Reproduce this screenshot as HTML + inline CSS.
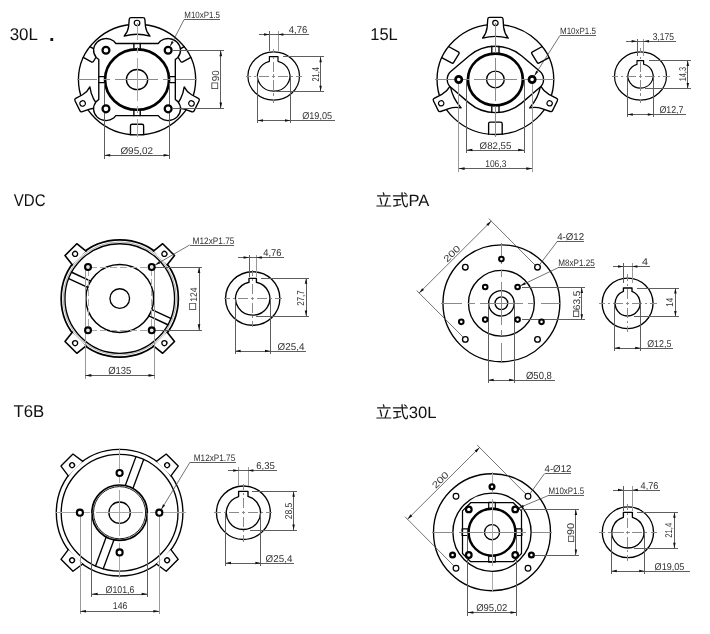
<!DOCTYPE html>
<html lang="zh">
<head>
<meta charset="utf-8">
<title>Flange dimensions</title>
<style>
html,body{margin:0;padding:0;background:#fff;}
body{width:710px;height:634px;overflow:hidden;}
svg{display:block;will-change:transform;}
svg *{vector-effect:non-scaling-stroke;}
.o{fill:none;stroke:#000;stroke-width:1.35;stroke-linejoin:round;stroke-linecap:round;}
.ow{fill:#fff;stroke:#000;stroke-width:1.35;stroke-linejoin:round;stroke-linecap:round;}
.k{fill:none;stroke:#000;stroke-width:2.7;}
.b{fill:#fff;stroke:#000;stroke-width:2.25;}
.c{fill:none;stroke:#777;stroke-width:0.9;}
.d{fill:none;stroke:#444;stroke-width:0.75;}
.x{shape-rendering:crispEdges;stroke-width:1;}
.d.x{stroke:#5e5e5e;}
.c.x{stroke:#8a8a8a;}
.c.l{stroke:#a8a8a8;}
.d.l{stroke:#999;}
.s{stroke-width:1.2;}
.a{fill:#111;stroke:none;}
.w{fill:#fff;stroke:none;}
text{font-family:"Liberation Sans","Noto Sans CJK SC",sans-serif;fill:#333;text-rendering:geometricPrecision;}
.n{font-size:9.7px;}
.q{stroke:#2a2a2a;stroke-width:0.25;}
.h{font-size:16px;fill:#111;}
</style>
</head>
<body>
<svg width="710" height="634" viewBox="0 0 710 634">
<rect class="w" x="0" y="0" width="710" height="634"/>
<!-- titles -->
<text class="h" x="9.7" y="40.1" style="font-size:17px" textLength="28.2" lengthAdjust="spacingAndGlyphs">30L</text>
<text class="h" x="49.0" y="40.9" style="font-size:20px;font-weight:bold">.</text>
<text class="h" x="370.3" y="40.1" style="font-size:17px" textLength="27.5" lengthAdjust="spacingAndGlyphs">15L</text>
<text class="h" x="13.8" y="205.8" style="font-size:17px" textLength="31.8" lengthAdjust="spacingAndGlyphs">VDC</text>
<text class="h" x="375.5" y="206.4" style="font-size:16.4px" textLength="53.9" lengthAdjust="spacingAndGlyphs">立式PA</text>
<text class="h" x="13.5" y="417.3" style="font-size:17px" textLength="30.8" lengthAdjust="spacingAndGlyphs">T6B</text>
<text class="h" x="375.4" y="417.6" style="font-size:16.4px" textLength="61.1" lengthAdjust="spacingAndGlyphs">立式30L</text>
<!-- d1 -->
<g transform="translate(137.05 79.55) scale(1.06 1)"><circle class="o" cx="0" cy="0" r="55.3"/><g><path class="o" d="M -6.2 55 L -6.2 46.2 Q -6.2 44.7 -4.7 44.7 L 4.7 44.7 Q 6.2 44.7 6.2 46.2 L 6.2 55"/></g><g transform="rotate(120)"><path class="o" d="M -6.2 55 L -6.2 46.2 Q -6.2 44.7 -4.7 44.7 L 4.7 44.7 Q 6.2 44.7 6.2 46.2 L 6.2 55"/></g><g transform="rotate(-120)"><path class="o" d="M -6.2 55 L -6.2 46.2 Q -6.2 44.7 -4.7 44.7 L 4.7 44.7 Q 6.2 44.7 6.2 46.2 L 6.2 55"/></g><g transform="rotate(0)"><path class="ow" d="M -12.2 -43.4 C -9.7 -46.38 -8.35 -49.54 -7.95 -53.07 L -7.35 -60.4 Q -7.2 -62 -5.6 -62 L 5.6 -62 Q 7.2 -62 7.35 -60.4 L 7.95 -53.07 C 8.35 -49.54 9.7 -46.38 12.2 -43.4 A 40.12 40.12 0 0 0 -12.2 -43.4 Z"/><circle class="ow" style="stroke-width:1.2" cx="0" cy="-56.65" r="2.65"/></g><g transform="rotate(115)"><path class="ow" d="M -12.2 -43.4 C -9.7 -46.38 -8.35 -49.54 -7.95 -53.07 L -7.35 -60.4 Q -7.2 -62 -5.6 -62 L 5.6 -62 Q 7.2 -62 7.35 -60.4 L 7.95 -53.07 C 8.35 -49.54 9.7 -46.38 12.2 -43.4 A 40.12 40.12 0 0 0 -12.2 -43.4 Z"/><circle class="ow" style="stroke-width:1.2" cx="0" cy="-56.65" r="2.65"/></g><g transform="rotate(-115)"><path class="ow" d="M -12.2 -43.4 C -9.7 -46.38 -8.35 -49.54 -7.95 -53.07 L -7.35 -60.4 Q -7.2 -62 -5.6 -62 L 5.6 -62 Q 7.2 -62 7.35 -60.4 L 7.95 -53.07 C 8.35 -49.54 9.7 -46.38 12.2 -43.4 A 40.12 40.12 0 0 0 -12.2 -43.4 Z"/><circle class="ow" style="stroke-width:1.2" cx="0" cy="-56.65" r="2.65"/></g><path class="ow" d="M -36.1 -19.98 L -38.5 -22.07 A 11.7 11.7 0 0 1 -22.07 -38.5 L -19.98 -36.1 L 19.98 -36.1 L 22.07 -38.5 A 11.7 11.7 0 0 1 38.5 -22.07 L 36.1 -19.98 L 36.1 19.98 L 38.5 22.07 A 11.7 11.7 0 0 1 22.07 38.5 L 19.98 36.1 L -19.98 36.1 L -22.07 38.5 A 11.7 11.7 0 0 1 -38.5 22.07 L -36.1 19.98 Z"/><g transform="rotate(0)"><path class="o" d="M -3 -36.1 L -3 -30.2 M 3 -36.1 L 3 -30.2"/></g><g transform="rotate(90)"><path class="o" d="M -3 -36.1 L -3 -30.2 M 3 -36.1 L 3 -30.2"/></g><g transform="rotate(180)"><path class="o" d="M -3 -36.1 L -3 -30.2 M 3 -36.1 L 3 -30.2"/></g><g transform="rotate(270)"><path class="o" d="M -3 -36.1 L -3 -30.2 M 3 -36.1 L 3 -30.2"/></g><circle class="k" cx="0" cy="0" r="30.2"/><circle class="o" cx="0" cy="0" r="10.05"/></g>
<line class="c x" x1="77.4" y1="79.5" x2="97.4" y2="79.5"/><line class="c x" x1="103.7" y1="79.5" x2="110.1" y2="79.5"/><line class="c x" x1="115.3" y1="79.5" x2="158.1" y2="79.5"/><line class="c x" x1="163.3" y1="79.5" x2="169.7" y2="79.5"/><line class="c x" x1="176" y1="79.5" x2="196.7" y2="79.5"/>
<line class="c l x" x1="137" y1="23" x2="137" y2="40.2"/><line class="c l x" x1="137" y1="46.5" x2="137" y2="52.9"/><line class="c l x" x1="137" y1="58.1" x2="137" y2="100.9"/><line class="c l x" x1="137" y1="106.1" x2="137" y2="112.5"/><line class="c l x" x1="137" y1="118.8" x2="137" y2="136.5"/>
<line class="d x" x1="104.2" y1="82.5" x2="104.2" y2="158.6"/>
<line class="d x" x1="169.6" y1="82.5" x2="169.6" y2="158.6"/>
<line class="d x" x1="104.2" y1="155.2" x2="169.6" y2="155.2"/><polygon class="a" points="104.2,155.2 110.2,153.9 110.2,156.5"/><polygon class="a" points="169.6,155.2 163.6,156.5 163.6,153.9"/>
<text class="n" x="120.4" y="154.1" style="font-size:9.8px" textLength="32.6" lengthAdjust="spacingAndGlyphs">Ø95,02</text>
<line class="d x" x1="172.5" y1="50.3" x2="224.2" y2="50.3"/>
<line class="d x" x1="172.5" y1="108.6" x2="224.2" y2="108.6"/>
<line class="d x" x1="220.8" y1="50.3" x2="220.8" y2="108.6"/><polygon class="a" points="220.8,50.3 222.1,56.3 219.5,56.3"/><polygon class="a" points="220.8,108.6 219.5,102.6 222.1,102.6"/>
<text class="n" x="218.4" y="88.9" transform="rotate(-90 218.4 88.9)"><tspan class="q" style="font-size:10.6px">□</tspan><tspan x="225.96" y="89.2" style="font-size:10.03px" textLength="11" lengthAdjust="spacingAndGlyphs">90</tspan></text>
<circle class="b" cx="105.95" cy="50.25" r="3.45"/>
<circle class="b" cx="105.95" cy="108.85" r="3.45"/>
<circle class="b" cx="168.15" cy="50.25" r="3.45"/>
<circle class="b" cx="168.15" cy="108.85" r="3.45"/>
<line class="d" x1="170.18" y1="46.35" x2="184.1" y2="19.6"/><polygon class="a" points="170.18,46.35 171.47,41.16 173.69,42.31"/><line class="d x" x1="184.1" y1="19.6" x2="219.9" y2="19.6"/>
<text class="n" x="184.3" y="18.1" style="font-size:9.1px" textLength="35.7" lengthAdjust="spacingAndGlyphs">M10xP1.5</text>
<!-- d2 -->
<g transform="translate(495.4 79.45) scale(1.06 1)"><circle class="o" cx="0" cy="0" r="55.05"/><g><path class="o" d="M -6.4 54.8 L -6.4 44.1 Q -6.4 42.6 -4.9 42.6 L 4.9 42.6 Q 6.4 42.6 6.4 44.1 L 6.4 54.8"/></g><g transform="rotate(120)"><path class="o" d="M -6.4 54.8 L -6.4 44.1 Q -6.4 42.6 -4.9 42.6 L 4.9 42.6 Q 6.4 42.6 6.4 44.1 L 6.4 54.8"/></g><g transform="rotate(-120)"><path class="o" d="M -6.4 54.8 L -6.4 44.1 Q -6.4 42.6 -4.9 42.6 L 4.9 42.6 Q 6.4 42.6 6.4 44.1 L 6.4 54.8"/></g><g transform="rotate(0)"><path class="ow" d="M -12.1 -41.3 C -9.6 -44.61 -8.2 -48.13 -7.8 -52.06 L -7.2 -60.4 Q -7.05 -62 -5.45 -62 L 5.45 -62 Q 7.05 -62 7.2 -60.4 L 7.8 -52.06 C 8.2 -48.13 9.6 -44.61 12.1 -41.3 A 43.91 43.91 0 0 0 -12.1 -41.3 Z"/><circle class="ow" style="stroke-width:1.2" cx="0" cy="-56.45" r="2.55"/></g><g transform="rotate(115)"><path class="ow" d="M -12.1 -41.3 C -9.6 -44.61 -8.2 -48.13 -7.8 -52.06 L -7.2 -60.4 Q -7.05 -62 -5.45 -62 L 5.45 -62 Q 7.05 -62 7.2 -60.4 L 7.8 -52.06 C 8.2 -48.13 9.6 -44.61 12.1 -41.3 A 43.91 43.91 0 0 0 -12.1 -41.3 Z"/><circle class="ow" style="stroke-width:1.2" cx="0" cy="-56.45" r="2.55"/></g><g transform="rotate(-115)"><path class="ow" d="M -12.1 -41.3 C -9.6 -44.61 -8.2 -48.13 -7.8 -52.06 L -7.2 -60.4 Q -7.05 -62 -5.45 -62 L 5.45 -62 Q 7.05 -62 7.2 -60.4 L 7.8 -52.06 C 8.2 -48.13 9.6 -44.61 12.1 -41.3 A 43.91 43.91 0 0 0 -12.1 -41.3 Z"/><circle class="ow" style="stroke-width:1.2" cx="0" cy="-56.45" r="2.55"/></g></g>
<g transform="translate(495.4 79.45) scale(1.06 1)"><path class="ow" d="M -41.84 -8.12 L -24.64 -23.67 A 36.75 36.75 0 0 1 24.64 -23.67 L 41.84 -8.12 A 10.95 10.95 0 0 1 41.84 8.12 L 24.64 23.67 A 36.75 36.75 0 0 1 -24.64 23.67 L -41.84 8.12 A 10.95 10.95 0 0 1 -41.84 -8.12 Z"/></g>
<g transform="translate(495.4 79.45) scale(1.06 1)"><g transform="rotate(0)"><path class="o" d="M -3.4 -33.15 L -3.4 -25.9 M 3.4 -33.15 L 3.4 -25.9"/></g><g transform="rotate(180)"><path class="o" d="M -3.4 -33.15 L -3.4 -25.9 M 3.4 -33.15 L 3.4 -25.9"/></g><circle class="k" cx="0" cy="0" r="25.9"/><circle class="o" cx="0" cy="0" r="8.35"/></g>
<line class="c x" x1="435.2" y1="79.5" x2="468.6" y2="79.5"/><line class="c x" x1="474.2" y1="79.5" x2="516.6" y2="79.5"/><line class="c x" x1="522.2" y1="79.5" x2="555" y2="79.5"/>
<line class="c x" x1="495.4" y1="23" x2="495.4" y2="52.7"/><line class="c x" x1="495.4" y1="58.3" x2="495.4" y2="100.7"/><line class="c x" x1="495.4" y1="106.3" x2="495.4" y2="136.5"/>
<line class="d x" x1="466.4" y1="80" x2="466.4" y2="152.6"/>
<line class="d x" x1="524.2" y1="80" x2="524.2" y2="152.6"/>
<line class="d x" x1="466.4" y1="150" x2="524.2" y2="150"/><polygon class="a" points="466.4,150 472.4,148.7 472.4,151.3"/><polygon class="a" points="524.2,150 518.2,151.3 518.2,148.7"/>
<text class="n" x="479.6" y="149.1" style="font-size:9.8px" textLength="31.8" lengthAdjust="spacingAndGlyphs">Ø82,55</text>
<line class="d l x" x1="458.6" y1="83" x2="458.6" y2="171.6"/>
<line class="d l x" x1="532.3" y1="83" x2="532.3" y2="171.6"/>
<line class="d x" x1="458.6" y1="168.6" x2="532.3" y2="168.6"/><polygon class="a" points="458.6,168.6 464.6,167.3 464.6,169.9"/><polygon class="a" points="532.3,168.6 526.3,169.9 526.3,167.3"/>
<text class="n" x="485.2" y="166.8" style="font-size:9.8px" textLength="21.2" lengthAdjust="spacingAndGlyphs">106,3</text>
<circle class="b" style="stroke-width:2.7" cx="458.7" cy="79.45" r="3.15"/>
<circle class="b" style="stroke-width:2.7" cx="532.1" cy="79.45" r="3.15"/>
<line class="d" x1="534.45" y1="75.73" x2="560" y2="35.4"/><polygon class="a" points="534.45,75.73 536.18,70.67 538.29,72.01"/><line class="d x" x1="560" y1="35.4" x2="596" y2="35.4"/>
<text class="n" x="560" y="34.1" style="font-size:9.1px" textLength="35.9" lengthAdjust="spacingAndGlyphs">M10xP1.5</text>
<!-- d3 -->
<g transform="translate(119.75 298.5)"><circle class="o" style="stroke-width:1.7" cx="0" cy="0" r="58.6"/><g transform="rotate(45)"><path class="ow" d="M -9.71 -57.38 L -8.36 -69.1 L 8.36 -69.1 L 9.71 -57.38" style="stroke-width:1.6"/><circle class="ow" cx="0" cy="-63.1" r="2.5"/></g><g transform="rotate(135)"><path class="ow" d="M -9.71 -57.38 L -8.36 -69.1 L 8.36 -69.1 L 9.71 -57.38" style="stroke-width:1.6"/><circle class="ow" cx="0" cy="-63.1" r="2.5"/></g><g transform="rotate(225)"><path class="ow" d="M -9.71 -57.38 L -8.36 -69.1 L 8.36 -69.1 L 9.71 -57.38" style="stroke-width:1.6"/><circle class="ow" cx="0" cy="-63.1" r="2.5"/></g><g transform="rotate(315)"><path class="ow" d="M -9.71 -57.38 L -8.36 -69.1 L 8.36 -69.1 L 9.71 -57.38" style="stroke-width:1.6"/><circle class="ow" cx="0" cy="-63.1" r="2.5"/></g><circle class="c" style="stroke-width:0.8;stroke:#999" cx="0" cy="0" r="56.6"/><circle class="o" style="stroke-width:1.35" cx="0" cy="0" r="54.8"/><g transform="rotate(25)"><line class="o" x1="-54.69" y1="-3.5" x2="-33.72" y2="-3.5" style="stroke-width:1.5"/><line class="o" x1="-54.69" y1="3.5" x2="-33.72" y2="3.5" style="stroke-width:1.5"/></g><g transform="rotate(205)"><line class="o" x1="-54.69" y1="-3.5" x2="-33.72" y2="-3.5" style="stroke-width:1.5"/><line class="o" x1="-54.69" y1="3.5" x2="-33.72" y2="3.5" style="stroke-width:1.5"/></g><circle class="o" style="stroke-width:1.5" cx="0" cy="0" r="33.9"/><circle class="o" cx="0" cy="0" r="9.8"/></g>
<line class="c l x" x1="88" y1="267" x2="151.7" y2="267" stroke-dasharray="7 3" stroke-dashoffset="-2"/>
<line class="c l x" x1="88" y1="330.3" x2="151.7" y2="330.3" stroke-dasharray="7 3" stroke-dashoffset="-2"/>
<line class="c l x" x1="88" y1="267" x2="88" y2="330.3" stroke-dasharray="7 3" stroke-dashoffset="-2"/>
<line class="c l x" x1="151.7" y1="267" x2="151.7" y2="330.3" stroke-dasharray="7 3" stroke-dashoffset="-2"/>
<line class="d l x" x1="85.4" y1="267" x2="85.4" y2="379"/>
<line class="d l x" x1="154.5" y1="267" x2="154.5" y2="379"/>
<line class="d x" x1="85.4" y1="375.4" x2="154.5" y2="375.4"/><polygon class="a" points="85.4,375.4 91.4,374.1 91.4,376.7"/><polygon class="a" points="154.5,375.4 148.5,376.7 148.5,374.1"/>
<text class="n" x="108.2" y="374.1" style="font-size:10.3px" textLength="23.2" lengthAdjust="spacingAndGlyphs">Ø135</text>
<line class="d x" x1="151.7" y1="267" x2="202.2" y2="267"/>
<line class="d x" x1="151.7" y1="330.3" x2="202.2" y2="330.3"/>
<line class="d x" x1="199" y1="267" x2="199" y2="330.3"/><polygon class="a" points="199,267 200.3,273 197.7,273"/><polygon class="a" points="199,330.3 197.7,324.3 200.3,324.3"/>
<text class="n" x="196.3" y="309.8" transform="rotate(-90 196.3 309.8)"><tspan class="q" style="font-size:11px">□</tspan><tspan x="204.4" y="310.1" style="font-size:9.66px" textLength="14.3" lengthAdjust="spacingAndGlyphs">124</tspan></text>
<circle class="b" style="fill:#e4e4e4;stroke-width:2.1" cx="88" cy="267" r="2.95"/>
<circle class="b" style="fill:#e4e4e4;stroke-width:2.1" cx="88" cy="330.3" r="2.95"/>
<circle class="b" style="fill:#e4e4e4;stroke-width:2.1" cx="151.7" cy="267" r="2.95"/>
<circle class="b" style="fill:#e4e4e4;stroke-width:2.1" cx="151.7" cy="330.3" r="2.95"/>
<line class="d" x1="155.07" y1="265.04" x2="189.6" y2="245"/><polygon class="a" points="155.07,265.04 158.94,261.35 160.2,263.51"/><line class="d x" x1="189.6" y1="245" x2="234.4" y2="245"/>
<text class="n" x="192.6" y="244.1" style="font-size:9.3px" textLength="41.8" lengthAdjust="spacingAndGlyphs">M12xP1.75</text>
<!-- d4 -->
<circle class="o" cx="501.4" cy="303.3" r="58.45"/>
<circle class="o" cx="501.4" cy="303.3" r="32.9"/>
<circle class="o" cx="501.4" cy="303.3" r="12.75"/>
<circle class="o" cx="501.4" cy="303.3" r="6.35"/>
<line class="c x" x1="441.4" y1="303.3" x2="462.1" y2="303.3"/><line class="c x" x1="468.4" y1="303.3" x2="474.8" y2="303.3"/><line class="c x" x1="480" y1="303.3" x2="522.8" y2="303.3"/><line class="c x" x1="528" y1="303.3" x2="534.4" y2="303.3"/><line class="c x" x1="540.7" y1="303.3" x2="561.4" y2="303.3"/>
<line class="c x" x1="501.4" y1="243.3" x2="501.4" y2="264"/><line class="c x" x1="501.4" y1="270.3" x2="501.4" y2="276.7"/><line class="c x" x1="501.4" y1="281.9" x2="501.4" y2="324.7"/><line class="c x" x1="501.4" y1="329.9" x2="501.4" y2="336.3"/><line class="c x" x1="501.4" y1="342.6" x2="501.4" y2="363.3"/>
<line class="d x" x1="488.2" y1="303.3" x2="488.2" y2="383.4"/>
<line class="d x" x1="514.5" y1="303.3" x2="514.5" y2="383.4"/>
<line class="d x" x1="488.2" y1="380" x2="555" y2="380"/>
<polygon class="a" points="488.2,380 493.6,378.75 493.6,381.25"/>
<polygon class="a" points="514.5,380 509.1,381.25 509.1,378.75"/>
<text class="n" x="526" y="379.1" style="font-size:10.3px" textLength="25.8" lengthAdjust="spacingAndGlyphs">Ø50,8</text>
<line class="d x" x1="521.5" y1="287.5" x2="585" y2="287.5"/>
<line class="d x" x1="521.5" y1="319.6" x2="585" y2="319.6"/>
<line class="d x" x1="581.8" y1="287.5" x2="581.8" y2="319.6"/><polygon class="a" points="581.8,287.5 583.05,292.9 580.55,292.9"/><polygon class="a" points="581.8,319.6 580.55,314.2 583.05,314.2"/>
<text class="n" x="579.5" y="316.8" transform="rotate(-90 579.5 316.8)"><tspan class="q" style="font-size:9.8px">□</tspan><tspan x="586.08" y="317.1" style="font-size:9.66px" textLength="19.6" lengthAdjust="spacingAndGlyphs">63,5</tspan></text>
<line class="d" x1="462.93" y1="336.92" x2="416.68" y2="290.54"/><line class="d" x1="535.03" y1="265.02" x2="488.78" y2="218.64"/><line class="d" x1="419.15" y1="293.02" x2="491.25" y2="221.12"/><polygon class="a" points="419.15,293.02 422.2,288.15 424.03,289.99"/><polygon class="a" points="491.25,221.12 488.2,226 486.37,224.15"/><text class="n" x="454.14" y="256.01" text-anchor="middle" transform="rotate(-44.92 454.14 256.01)" style="font-size:9.3px" textLength="19.2" lengthAdjust="spacingAndGlyphs">200</text>
<circle class="ow" cx="465.3" cy="267.2" r="2.8"/>
<circle class="b" style="stroke-width:2" cx="485.2" cy="287" r="2.3"/>
<circle class="ow" cx="465.3" cy="339.4" r="2.8"/>
<circle class="b" style="stroke-width:2" cx="485.2" cy="319.6" r="2.3"/>
<circle class="ow" cx="537.5" cy="267.2" r="2.8"/>
<circle class="b" style="stroke-width:2" cx="517.6" cy="287" r="2.3"/>
<circle class="ow" cx="537.5" cy="339.4" r="2.8"/>
<circle class="b" style="stroke-width:2" cx="517.6" cy="319.6" r="2.3"/>
<circle class="b" style="stroke-width:2" cx="501.4" cy="259.1" r="2.3"/>
<circle class="b" style="stroke-width:2" cx="541.52" cy="321.84" r="2.3"/>
<circle class="b" style="stroke-width:2" cx="461.28" cy="321.84" r="2.3"/>
<line class="d" x1="539.43" y1="264.95" x2="557.3" y2="241.4"/><line class="d x" x1="557.3" y1="241.4" x2="584.4" y2="241.4"/>
<text class="n" x="557.2" y="240.1" style="font-size:9.9px" textLength="26.9" lengthAdjust="spacingAndGlyphs">4-Ø12</text>
<line class="d" x1="520.49" y1="285.72" x2="558.1" y2="267.7"/><polygon class="a" points="520.49,285.72 524.64,282.34 525.72,284.6"/><line class="d x" x1="558.1" y1="267.7" x2="595" y2="267.7"/>
<text class="n" x="558.2" y="266.1" style="font-size:9.3px" textLength="36.7" lengthAdjust="spacingAndGlyphs">M8xP1.25</text>
<!-- d5 -->
<g transform="translate(119.6 512.7)"><circle class="o" cx="0" cy="0" r="63.3"/><g transform="rotate(45)"><path class="ow" d="M -10.21 -62.37 L -8.48 -74.42 L 8.48 -74.42 L 10.21 -62.37"/><circle class="ow" cx="0" cy="-67.2" r="2.4"/></g><g transform="rotate(135)"><path class="ow" d="M -10.21 -62.37 L -8.48 -74.42 L 8.48 -74.42 L 10.21 -62.37"/><circle class="ow" cx="0" cy="-67.2" r="2.4"/></g><g transform="rotate(225)"><path class="ow" d="M -10.21 -62.37 L -8.48 -74.42 L 8.48 -74.42 L 10.21 -62.37"/><circle class="ow" cx="0" cy="-67.2" r="2.4"/></g><g transform="rotate(315)"><path class="ow" d="M -10.21 -62.37 L -8.48 -74.42 L 8.48 -74.42 L 10.21 -62.37"/><circle class="ow" cx="0" cy="-67.2" r="2.4"/></g><circle class="o" cx="0" cy="0" r="58.4"/><g transform="rotate(20.3)"><line class="o" x1="-4.1" y1="-58.26" x2="-4.1" y2="-27.5"/><line class="o" x1="4.1" y1="-58.26" x2="4.1" y2="-27.5"/></g><g transform="rotate(200.3)"><line class="o" x1="-4.1" y1="-58.26" x2="-4.1" y2="-27.5"/><line class="o" x1="4.1" y1="-58.26" x2="4.1" y2="-27.5"/></g><circle class="o" style="stroke-width:1.7" cx="0" cy="0" r="27.7"/><circle class="o" style="stroke-width:0.9" cx="0" cy="0" r="26.1"/><circle class="o" cx="0" cy="0" r="10.7"/></g>
<line class="c l x" x1="55" y1="512.7" x2="76.6" y2="512.7"/><line class="c l x" x1="82.6" y1="512.7" x2="89.5" y2="512.7"/><line class="c l x" x1="96.4" y1="512.7" x2="142.8" y2="512.7"/><line class="c l x" x1="149.7" y1="512.7" x2="156.6" y2="512.7"/><line class="c l x" x1="162.6" y1="512.7" x2="186.1" y2="512.7"/>
<line class="c l x" x1="119.6" y1="447.7" x2="119.6" y2="469.7"/><line class="c l x" x1="119.6" y1="475.7" x2="119.6" y2="482.6"/><line class="c l x" x1="119.6" y1="489.5" x2="119.6" y2="535.9"/><line class="c l x" x1="119.6" y1="542.8" x2="119.6" y2="549.7"/><line class="c l x" x1="119.6" y1="555.7" x2="119.6" y2="577.7"/>
<line class="d l x" x1="80" y1="515.7" x2="80" y2="613.8"/>
<line class="d l x" x1="159.4" y1="515.7" x2="159.4" y2="613.8"/>
<line class="d x" x1="91.7" y1="512.7" x2="91.7" y2="597.2"/>
<line class="d x" x1="147.6" y1="512.7" x2="147.6" y2="597.2"/>
<line class="d x" x1="91.7" y1="594" x2="147.6" y2="594"/><polygon class="a" points="91.7,594 97.7,592.7 97.7,595.3"/><polygon class="a" points="147.6,594 141.6,595.3 141.6,592.7"/>
<text class="n" x="105.6" y="593.1" style="font-size:9.9px" textLength="28.8" lengthAdjust="spacingAndGlyphs">Ø101,6</text>
<line class="d x" x1="80" y1="611.2" x2="159.4" y2="611.2"/><polygon class="a" points="80,611.2 86,609.9 86,612.5"/><polygon class="a" points="159.4,611.2 153.4,612.5 153.4,609.9"/>
<text class="n" x="112.8" y="608.9" style="font-size:9.9px" textLength="14.5" lengthAdjust="spacingAndGlyphs">146</text>
<circle class="b" style="stroke-width:2.1" cx="159.3" cy="512.7" r="3.05"/>
<circle class="b" style="stroke-width:2.1" cx="119.6" cy="552.4" r="3.05"/>
<circle class="b" style="stroke-width:2.1" cx="79.9" cy="512.7" r="3.05"/>
<circle class="b" style="stroke-width:2.1" cx="119.6" cy="473" r="3.05"/>
<line class="d" x1="161.38" y1="509.28" x2="190" y2="462.2"/><polygon class="a" points="161.38,509.28 163.01,504.19 165.15,505.49"/><line class="d x" x1="190" y1="462.2" x2="236.2" y2="462.2"/>
<text class="n" x="193.8" y="461.1" style="font-size:9.3px" textLength="41.4" lengthAdjust="spacingAndGlyphs">M12xP1.75</text>
<!-- d6 -->
<circle class="o" cx="492" cy="532.2" r="58.5"/>
<circle class="o" cx="492" cy="532.2" r="39.1"/>
<g transform="translate(492 532.2)"><path class="o" style="stroke-width:1.25" d="M -21.3 -29.5 L 21.3 -29.5 L 29.5 -21.3 L 29.5 21.3 L 21.3 29.5 L -21.3 29.5 L -29.5 21.3 L -29.5 -21.3 Z"/><g transform="rotate(0)"><rect class="o" style="stroke-width:1.15" x="-3.3" y="-29.9" width="6.6" height="6"/></g><g transform="rotate(90)"><rect class="o" style="stroke-width:1.15" x="-3.3" y="-29.9" width="6.6" height="6"/></g><g transform="rotate(180)"><rect class="o" style="stroke-width:1.15" x="-3.3" y="-29.9" width="6.6" height="6"/></g><g transform="rotate(270)"><rect class="o" style="stroke-width:1.15" x="-3.3" y="-29.9" width="6.6" height="6"/></g></g>
<circle class="k" style="stroke-width:2.45" cx="492" cy="532.2" r="23.4"/>
<circle class="o" cx="492" cy="532.2" r="7.55"/>
<line class="c x" x1="431.8" y1="532.2" x2="452.5" y2="532.2"/><line class="c x" x1="458.5" y1="532.2" x2="525.5" y2="532.2"/><line class="c x" x1="531.5" y1="532.2" x2="552.2" y2="532.2"/>
<line class="c l x" x1="492" y1="472" x2="492" y2="492.7"/><line class="c l x" x1="492" y1="498.7" x2="492" y2="565.7"/><line class="c l x" x1="492" y1="571.7" x2="492" y2="592.4"/>
<line class="d x" x1="467.4" y1="532.2" x2="467.4" y2="615.6"/>
<line class="d x" x1="516.5" y1="532.2" x2="516.5" y2="615.6"/>
<line class="d x" x1="467.4" y1="612.5" x2="516.5" y2="612.5"/><polygon class="a" points="467.4,612.5 473.4,611.2 473.4,613.8"/><polygon class="a" points="516.5,612.5 510.5,613.8 510.5,611.2"/>
<text class="n" x="476.2" y="610.8" style="font-size:9.9px" textLength="31.2" lengthAdjust="spacingAndGlyphs">Ø95,02</text>
<line class="d x" x1="519.5" y1="509.5" x2="579" y2="509.5"/>
<line class="d x" x1="535" y1="555" x2="579" y2="555"/>
<line class="d x" x1="575.9" y1="509.5" x2="575.9" y2="555"/><polygon class="a" points="575.9,509.5 577.15,514.9 574.65,514.9"/><polygon class="a" points="575.9,555 574.65,549.6 577.15,549.6"/>
<text class="n" x="573.7" y="541.8" transform="rotate(-90 573.7 541.8)"><tspan class="q" style="font-size:9.6px">□</tspan><tspan x="580.46" y="542.1" style="font-size:9.75px" textLength="12.2" lengthAdjust="spacingAndGlyphs">90</tspan></text>
<line class="d" x1="453.53" y1="565.52" x2="405.02" y2="516.73"/><line class="d" x1="525.63" y1="493.82" x2="477.12" y2="445.03"/><line class="d" x1="407.49" y1="519.22" x2="479.59" y2="447.52"/><polygon class="a" points="407.49,519.22 410.54,514.35 412.37,516.19"/><polygon class="a" points="479.59,447.52 476.53,452.39 474.7,450.54"/><text class="n" x="442.48" y="482.3" text-anchor="middle" transform="rotate(-44.84 442.48 482.3)" style="font-size:9.3px" textLength="19.2" lengthAdjust="spacingAndGlyphs">200</text>
<circle class="ow" style="stroke-width:1.2" cx="456" cy="496.2" r="2.85"/>
<circle class="b" style="stroke-width:2.2" cx="468.8" cy="509.4" r="2.8"/>
<circle class="ow" style="stroke-width:1.2" cx="456" cy="568.2" r="2.85"/>
<circle class="b" style="stroke-width:2.2" cx="468.8" cy="555" r="2.8"/>
<circle class="ow" style="stroke-width:1.2" cx="528" cy="496.2" r="2.85"/>
<circle class="b" style="stroke-width:2.2" cx="515.2" cy="509.4" r="2.8"/>
<circle class="ow" style="stroke-width:1.2" cx="528" cy="568.2" r="2.85"/>
<circle class="b" style="stroke-width:2.2" cx="515.2" cy="555" r="2.8"/>
<circle class="b" style="stroke-width:2.3" cx="492" cy="486.7" r="2.4"/>
<circle class="b" style="stroke-width:2.3" cx="531.4" cy="554.95" r="2.4"/>
<circle class="b" style="stroke-width:2.3" cx="452.6" cy="554.95" r="2.4"/>
<line class="d" x1="530.03" y1="493.63" x2="544.5" y2="473.6"/><line class="d x" x1="544.5" y1="473.6" x2="571.4" y2="473.6"/>
<text class="n" x="544.5" y="472.1" style="font-size:9.9px" textLength="26.9" lengthAdjust="spacingAndGlyphs">4-Ø12</text>
<line class="d" x1="518.71" y1="507.94" x2="548" y2="495.7"/><polygon class="a" points="518.71,507.94 523.02,504.78 523.99,507.08"/><line class="d x" x1="548" y1="495.7" x2="584.4" y2="495.7"/>
<text class="n" x="548.4" y="493.9" style="font-size:9.3px" textLength="35.7" lengthAdjust="spacingAndGlyphs">M10xP1.5</text>
<!-- shafts -->
<ellipse class="o" cx="273.7" cy="76" rx="25.8" ry="24.1" style="stroke-width:1.2"/>
<path class="o" d="M 269.4 61.35 L 269.4 56.6 L 278 56.6 L 278 61.35 A 16.2 15.2 0 1 1 269.4 61.35" style="stroke-width:1.2"/>
<line class="c x" x1="245.6" y1="76" x2="251.1" y2="76"/><line class="c x" x1="254.2" y1="76" x2="256.4" y2="76"/><line class="c x" x1="259.2" y1="76" x2="269.3" y2="76"/><line class="c x" x1="272.05" y1="76" x2="275.35" y2="76"/><line class="c x" x1="278.1" y1="76" x2="288.2" y2="76"/><line class="c x" x1="291" y1="76" x2="293.2" y2="76"/><line class="c x" x1="296.3" y1="76" x2="302.4" y2="76"/>
<line class="c x" x1="273.7" y1="48.6" x2="273.7" y2="53.4"/><line class="c x" x1="273.7" y1="56.5" x2="273.7" y2="58.7"/><line class="c x" x1="273.7" y1="61.5" x2="273.7" y2="71.6"/><line class="c x" x1="273.7" y1="74.35" x2="273.7" y2="77.65"/><line class="c x" x1="273.7" y1="80.4" x2="273.7" y2="90.5"/><line class="c x" x1="273.7" y1="93.3" x2="273.7" y2="95.5"/><line class="c x" x1="273.7" y1="98.6" x2="273.7" y2="103"/>
<line class="d x" x1="269.4" y1="30.6" x2="269.4" y2="51"/>
<line class="d l x" x1="278" y1="30.6" x2="278" y2="51"/>
<line class="d x" x1="258.6" y1="34.5" x2="309.2" y2="34.5"/>
<polygon class="a" points="269.4,34.5 264,35.75 264,33.25"/>
<polygon class="a" points="278,34.5 283.4,33.25 283.4,35.75"/>
<text class="n" x="288.7" y="33.1" style="font-size:9.9px" textLength="18.6" lengthAdjust="spacingAndGlyphs">4,76</text>
<line class="d x" x1="283" y1="56.9" x2="324.2" y2="56.9"/>
<line class="d x" x1="276" y1="91.2" x2="324.2" y2="91.2"/>
<line class="d x" x1="320.6" y1="56.9" x2="320.6" y2="91.2"/><polygon class="a" points="320.6,56.9 321.85,62.3 319.35,62.3"/><polygon class="a" points="320.6,91.2 319.35,85.8 321.85,85.8"/>
<text class="n" x="318.7" y="81.52" transform="rotate(-90 318.7 81.52)" style="font-size:9.94px" textLength="14.45" lengthAdjust="spacingAndGlyphs">21,4</text>
<line class="d x" x1="257.6" y1="76" x2="257.6" y2="123.2"/>
<line class="d x" x1="290.4" y1="76" x2="290.4" y2="123.2"/>
<line class="d x" x1="257.6" y1="120.4" x2="335" y2="120.4"/>
<polygon class="a" points="257.6,120.4 263,119.15 263,121.65"/>
<polygon class="a" points="290.4,120.4 285,121.65 285,119.15"/>
<text class="n" x="302.2" y="119.1" style="font-size:9.9px" textLength="29.9" lengthAdjust="spacingAndGlyphs">Ø19,05</text>
<ellipse class="o" cx="640.5" cy="76" rx="26" ry="24.1" style="stroke-width:1.2"/>
<path class="o" d="M 637 64.38 L 637 60.6 L 643.6 60.6 L 643.6 64.27 A 12.6 12.1 0 1 1 637 64.38" style="stroke-width:1.2"/>
<line class="c x" x1="611.5" y1="76" x2="617.9" y2="76"/><line class="c x" x1="621" y1="76" x2="623.2" y2="76"/><line class="c x" x1="626" y1="76" x2="636.1" y2="76"/><line class="c x" x1="638.85" y1="76" x2="642.15" y2="76"/><line class="c x" x1="644.9" y1="76" x2="655" y2="76"/><line class="c x" x1="657.8" y1="76" x2="660" y2="76"/><line class="c x" x1="663.1" y1="76" x2="669.5" y2="76"/>
<line class="c x" x1="640.5" y1="48" x2="640.5" y2="53.4"/><line class="c x" x1="640.5" y1="56.5" x2="640.5" y2="58.7"/><line class="c x" x1="640.5" y1="61.5" x2="640.5" y2="71.6"/><line class="c x" x1="640.5" y1="74.35" x2="640.5" y2="77.65"/><line class="c x" x1="640.5" y1="80.4" x2="640.5" y2="90.5"/><line class="c x" x1="640.5" y1="93.3" x2="640.5" y2="95.5"/><line class="c x" x1="640.5" y1="98.6" x2="640.5" y2="103.4"/>
<line class="d x" x1="637" y1="38.6" x2="637" y2="56"/>
<line class="d l x" x1="643.6" y1="38.6" x2="643.6" y2="56"/>
<line class="d x" x1="626" y1="41.3" x2="676" y2="41.3"/>
<polygon class="a" points="637,41.3 631.6,42.55 631.6,40.05"/>
<polygon class="a" points="643.6,41.3 649,40.05 649,42.55"/>
<text class="n" x="652.75" y="40.1" style="font-size:9.9px" textLength="21.35" lengthAdjust="spacingAndGlyphs">3,175</text>
<line class="d x" x1="649" y1="60.5" x2="691" y2="60.5"/>
<line class="d x" x1="645" y1="88.4" x2="691" y2="88.4"/>
<line class="d x" x1="687.8" y1="60.5" x2="687.8" y2="88.4"/><polygon class="a" points="687.8,60.5 689.05,65.9 686.55,65.9"/><polygon class="a" points="687.8,88.4 686.55,83 689.05,83"/>
<text class="n" x="685.6" y="81.3" transform="rotate(-90 685.6 81.3)" style="font-size:9.94px" textLength="14.3" lengthAdjust="spacingAndGlyphs">14,3</text>
<line class="d x" x1="627.4" y1="76" x2="627.4" y2="117.4"/>
<line class="d x" x1="653.2" y1="76" x2="653.2" y2="117.4"/>
<line class="d x" x1="627.4" y1="114.4" x2="686.4" y2="114.4"/>
<polygon class="a" points="627.4,114.4 632.8,113.15 632.8,115.65"/>
<polygon class="a" points="653.2,114.4 647.8,115.65 647.8,113.15"/>
<text class="n" x="659.4" y="113.1" style="font-size:9.9px" textLength="24.1" lengthAdjust="spacingAndGlyphs">Ø12,7</text>
<ellipse class="o" cx="252.7" cy="298.5" rx="27.15" ry="26.75" style="stroke-width:1.35"/>
<path class="o" d="M 249 282.24 L 249 278.4 L 256.4 278.4 L 256.4 282.24 A 17.15 16.65 0 1 1 249 282.24" style="stroke-width:1.35"/>
<line class="c x" x1="223.7" y1="298.5" x2="230.1" y2="298.5"/><line class="c x" x1="233.2" y1="298.5" x2="235.4" y2="298.5"/><line class="c x" x1="238.2" y1="298.5" x2="248.3" y2="298.5"/><line class="c x" x1="251.05" y1="298.5" x2="254.35" y2="298.5"/><line class="c x" x1="257.1" y1="298.5" x2="267.2" y2="298.5"/><line class="c x" x1="270" y1="298.5" x2="272.2" y2="298.5"/><line class="c x" x1="275.3" y1="298.5" x2="281.7" y2="298.5"/>
<line class="c x" x1="252.7" y1="269.5" x2="252.7" y2="275.9"/><line class="c x" x1="252.7" y1="279" x2="252.7" y2="281.2"/><line class="c x" x1="252.7" y1="284" x2="252.7" y2="294.1"/><line class="c x" x1="252.7" y1="296.85" x2="252.7" y2="300.15"/><line class="c x" x1="252.7" y1="302.9" x2="252.7" y2="313"/><line class="c x" x1="252.7" y1="315.8" x2="252.7" y2="318"/><line class="c x" x1="252.7" y1="321.1" x2="252.7" y2="327.4"/>
<line class="d x" x1="249" y1="254.6" x2="249" y2="277"/>
<line class="d l x" x1="256.4" y1="254.6" x2="256.4" y2="277"/>
<line class="d x" x1="238.4" y1="257.6" x2="284" y2="257.6"/>
<polygon class="a" points="249,257.6 243.6,258.85 243.6,256.35"/>
<polygon class="a" points="256.4,257.6 261.8,256.35 261.8,258.85"/>
<text class="n" x="263.2" y="256.1" style="font-size:9.9px" textLength="18.2" lengthAdjust="spacingAndGlyphs">4,76</text>
<line class="d x" x1="261" y1="278.4" x2="309" y2="278.4"/>
<line class="d x" x1="256" y1="316" x2="309" y2="316"/>
<line class="d x" x1="306" y1="278.4" x2="306" y2="316"/><polygon class="a" points="306,278.4 307.25,283.8 304.75,283.8"/><polygon class="a" points="306,316 304.75,310.6 307.25,310.6"/>
<text class="n" x="304" y="305.8" transform="rotate(-90 304 305.8)" style="font-size:9.94px" textLength="15.6" lengthAdjust="spacingAndGlyphs">27,7</text>
<line class="d x" x1="235.2" y1="298.5" x2="235.2" y2="354"/>
<line class="d x" x1="270.4" y1="298.5" x2="270.4" y2="354"/>
<line class="d x" x1="235.2" y1="351" x2="306.4" y2="351"/>
<polygon class="a" points="235.2,351 240.6,349.75 240.6,352.25"/>
<polygon class="a" points="270.4,351 265,352.25 265,349.75"/>
<text class="n" x="277.6" y="350.1" style="font-size:9.9px" textLength="26.8" lengthAdjust="spacingAndGlyphs">Ø25,4</text>
<ellipse class="o" cx="627.6" cy="303.3" rx="25.45" ry="25.25" style="stroke-width:1.35"/>
<path class="o" d="M 623.4 291.39 L 623.4 288 L 632 288 L 632 291.47 A 12.45 12.65 0 1 1 623.4 291.39" style="stroke-width:1.35"/>
<line class="c x" x1="598.6" y1="303.3" x2="605" y2="303.3"/><line class="c x" x1="608.1" y1="303.3" x2="610.3" y2="303.3"/><line class="c x" x1="613.1" y1="303.3" x2="623.2" y2="303.3"/><line class="c x" x1="625.95" y1="303.3" x2="629.25" y2="303.3"/><line class="c x" x1="632" y1="303.3" x2="642.1" y2="303.3"/><line class="c x" x1="644.9" y1="303.3" x2="647.1" y2="303.3"/><line class="c x" x1="650.2" y1="303.3" x2="656.6" y2="303.3"/>
<line class="c x" x1="627.6" y1="274.4" x2="627.6" y2="280.7"/><line class="c x" x1="627.6" y1="283.8" x2="627.6" y2="286"/><line class="c x" x1="627.6" y1="288.8" x2="627.6" y2="298.9"/><line class="c x" x1="627.6" y1="301.65" x2="627.6" y2="304.95"/><line class="c x" x1="627.6" y1="307.7" x2="627.6" y2="317.8"/><line class="c x" x1="627.6" y1="320.6" x2="627.6" y2="322.8"/><line class="c x" x1="627.6" y1="325.9" x2="627.6" y2="332.3"/>
<line class="d x" x1="623.4" y1="263" x2="623.4" y2="283"/>
<line class="d l x" x1="632" y1="263" x2="632" y2="283"/>
<line class="d x" x1="613" y1="266.6" x2="650" y2="266.6"/>
<polygon class="a" points="623.4,266.6 618,267.85 618,265.35"/>
<polygon class="a" points="632,266.6 637.4,265.35 637.4,267.85"/>
<text class="n" x="642" y="265.1" style="font-size:9.9px" textLength="6" lengthAdjust="spacingAndGlyphs">4</text>
<line class="d x" x1="637" y1="288" x2="678.6" y2="288"/>
<line class="d x" x1="634" y1="316.4" x2="678.6" y2="316.4"/>
<line class="d x" x1="675.4" y1="288" x2="675.4" y2="316.4"/><polygon class="a" points="675.4,288 676.65,293.4 674.15,293.4"/><polygon class="a" points="675.4,316.4 674.15,311 676.65,311"/>
<text class="n" x="673" y="306.7" transform="rotate(-90 673 306.7)" style="font-size:9.94px" textLength="9" lengthAdjust="spacingAndGlyphs">14</text>
<line class="d x" x1="614.4" y1="303.3" x2="614.4" y2="351"/>
<line class="d x" x1="640.6" y1="303.3" x2="640.6" y2="351"/>
<line class="d x" x1="614.4" y1="348" x2="673.4" y2="348"/>
<polygon class="a" points="614.4,348 619.8,346.75 619.8,349.25"/>
<polygon class="a" points="640.6,348 635.2,349.25 635.2,346.75"/>
<text class="n" x="647.2" y="347.1" style="font-size:9.9px" textLength="24.2" lengthAdjust="spacingAndGlyphs">Ø12,5</text>
<ellipse class="o" cx="243.4" cy="512.7" rx="26.95" ry="26.75" style="stroke-width:1.35"/>
<path class="o" d="M 238.6 496.53 L 238.6 491.4 L 248 491.4 L 248 496.47 A 17.05 16.85 0 1 1 238.6 496.53" style="stroke-width:1.35"/>
<line class="c x" x1="214.4" y1="512.7" x2="220.8" y2="512.7"/><line class="c x" x1="223.9" y1="512.7" x2="226.1" y2="512.7"/><line class="c x" x1="228.9" y1="512.7" x2="239" y2="512.7"/><line class="c x" x1="241.75" y1="512.7" x2="245.05" y2="512.7"/><line class="c x" x1="247.8" y1="512.7" x2="257.9" y2="512.7"/><line class="c x" x1="260.7" y1="512.7" x2="262.9" y2="512.7"/><line class="c x" x1="266" y1="512.7" x2="272.4" y2="512.7"/>
<line class="c x" x1="243.4" y1="483.7" x2="243.4" y2="490.1"/><line class="c x" x1="243.4" y1="493.2" x2="243.4" y2="495.4"/><line class="c x" x1="243.4" y1="498.2" x2="243.4" y2="508.3"/><line class="c x" x1="243.4" y1="511.05" x2="243.4" y2="514.35"/><line class="c x" x1="243.4" y1="517.1" x2="243.4" y2="527.2"/><line class="c x" x1="243.4" y1="530" x2="243.4" y2="532.2"/><line class="c x" x1="243.4" y1="535.3" x2="243.4" y2="541.7"/>
<line class="d l x" x1="238.6" y1="467" x2="238.6" y2="486"/>
<line class="d l x" x1="248" y1="467" x2="248" y2="486"/>
<line class="d x" x1="228" y1="470.4" x2="277" y2="470.4"/>
<polygon class="a" points="238.6,470.4 233.2,471.65 233.2,469.15"/>
<polygon class="a" points="248,470.4 253.4,469.15 253.4,471.65"/>
<text class="n" x="256.2" y="469.1" style="font-size:9.9px" textLength="18.6" lengthAdjust="spacingAndGlyphs">6,35</text>
<line class="d x" x1="252.4" y1="491.4" x2="297" y2="491.4"/>
<line class="d x" x1="250" y1="530" x2="297" y2="530"/>
<line class="d x" x1="293.6" y1="491.4" x2="293.6" y2="530"/><polygon class="a" points="293.6,491.4 294.85,496.8 292.35,496.8"/><polygon class="a" points="293.6,530 292.35,524.6 294.85,524.6"/>
<text class="n" x="291.6" y="519.3" transform="rotate(-90 291.6 519.3)" style="font-size:9.94px" textLength="16.6" lengthAdjust="spacingAndGlyphs">28,5</text>
<line class="d x" x1="225.6" y1="512.7" x2="225.6" y2="566.4"/>
<line class="d x" x1="260.8" y1="512.7" x2="260.8" y2="566.4"/>
<line class="d x" x1="225.6" y1="563" x2="294" y2="563"/>
<polygon class="a" points="225.6,563 231,561.75 231,564.25"/>
<polygon class="a" points="260.8,563 255.4,564.25 255.4,561.75"/>
<text class="n" x="265.6" y="562.1" style="font-size:9.9px" textLength="26.8" lengthAdjust="spacingAndGlyphs">Ø25,4</text>
<ellipse class="o" cx="627.9" cy="532.3" rx="25.65" ry="25.35" style="stroke-width:1.35"/>
<path class="o" d="M 623.4 517.28 L 623.4 512.4 L 632.4 512.4 L 632.4 517.28 A 16.05 15.65 0 1 1 623.4 517.28" style="stroke-width:1.35"/>
<line class="c x" x1="599" y1="532.3" x2="605.3" y2="532.3"/><line class="c x" x1="608.4" y1="532.3" x2="610.6" y2="532.3"/><line class="c x" x1="613.4" y1="532.3" x2="623.5" y2="532.3"/><line class="c x" x1="626.25" y1="532.3" x2="629.55" y2="532.3"/><line class="c x" x1="632.3" y1="532.3" x2="642.4" y2="532.3"/><line class="c x" x1="645.2" y1="532.3" x2="647.4" y2="532.3"/><line class="c x" x1="650.5" y1="532.3" x2="656.9" y2="532.3"/>
<line class="c x" x1="627.9" y1="504" x2="627.9" y2="509.7"/><line class="c x" x1="627.9" y1="512.8" x2="627.9" y2="515"/><line class="c x" x1="627.9" y1="517.8" x2="627.9" y2="527.9"/><line class="c x" x1="627.9" y1="530.65" x2="627.9" y2="533.95"/><line class="c x" x1="627.9" y1="536.7" x2="627.9" y2="546.8"/><line class="c x" x1="627.9" y1="549.6" x2="627.9" y2="551.8"/><line class="c x" x1="627.9" y1="554.9" x2="627.9" y2="560.6"/>
<line class="d x" x1="623.4" y1="486" x2="623.4" y2="511"/>
<line class="d l x" x1="632.4" y1="486" x2="632.4" y2="511"/>
<line class="d x" x1="613" y1="490" x2="660" y2="490"/>
<polygon class="a" points="623.4,490 618,491.25 618,488.75"/>
<polygon class="a" points="632.4,490 637.8,488.75 637.8,491.25"/>
<text class="n" x="640.6" y="489.1" style="font-size:9.9px" textLength="17.8" lengthAdjust="spacingAndGlyphs">4,76</text>
<line class="d x" x1="637" y1="512.4" x2="677.6" y2="512.4"/>
<line class="d x" x1="634" y1="548.2" x2="677.6" y2="548.2"/>
<line class="d x" x1="674.4" y1="512.4" x2="674.4" y2="548.2"/><polygon class="a" points="674.4,512.4 675.65,517.8 673.15,517.8"/><polygon class="a" points="674.4,548.2 673.15,542.8 675.65,542.8"/>
<text class="n" x="671.6" y="537.7" transform="rotate(-90 671.6 537.7)" style="font-size:9.94px" textLength="15" lengthAdjust="spacingAndGlyphs">21,4</text>
<line class="d x" x1="611.4" y1="532.3" x2="611.4" y2="574.4"/>
<line class="d x" x1="644.6" y1="532.3" x2="644.6" y2="574.4"/>
<line class="d x" x1="611.4" y1="571" x2="690" y2="571"/>
<polygon class="a" points="611.4,571 616.8,569.75 616.8,572.25"/>
<polygon class="a" points="644.6,571 639.2,572.25 639.2,569.75"/>
<text class="n" x="654.6" y="570.1" style="font-size:9.9px" textLength="29.8" lengthAdjust="spacingAndGlyphs">Ø19,05</text>
</svg>
</body>
</html>
